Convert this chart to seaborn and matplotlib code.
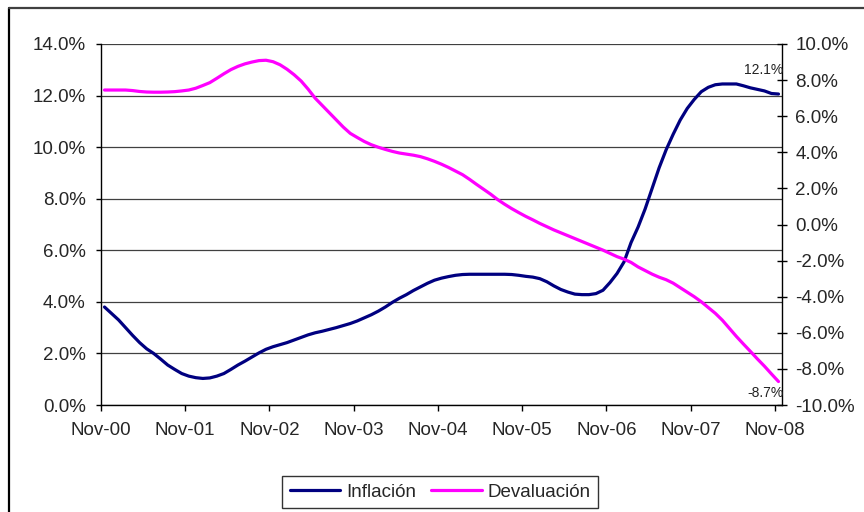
import matplotlib
matplotlib.use("Agg")
import matplotlib.pyplot as plt
from matplotlib.lines import Line2D
import seaborn as sns
import pandas as pd
import numpy as np

sns.set_style("white")
plt.rcParams['font.family'] = ['Liberation Sans', 'DejaVu Sans']

tick_labels = ["Nov-00", "Nov-01", "Nov-02", "Nov-03", "Nov-04",
               "Nov-05", "Nov-06", "Nov-07", "Nov-08"]

inflacion = [3.80, 3.55, 3.30, 3.00, 2.70, 2.42, 2.18, 2.00, 1.78, 1.55,
             1.38, 1.22, 1.12, 1.06, 1.03, 1.05, 1.12, 1.22, 1.38, 1.55,
             1.70, 1.86, 2.02, 2.16, 2.26, 2.34, 2.42, 2.52, 2.62, 2.72,
             2.80, 2.86, 2.93, 3.00, 3.08, 3.16, 3.26, 3.38, 3.50, 3.64,
             3.80, 3.98, 4.14, 4.28, 4.44, 4.58, 4.72, 4.84, 4.92, 4.98,
             5.03, 5.06, 5.07, 5.07, 5.07, 5.07, 5.07, 5.07, 5.06, 5.03,
             4.99, 4.96, 4.90, 4.78, 4.62, 4.48, 4.38, 4.30, 4.28, 4.28,
             4.32, 4.45, 4.75, 5.10, 5.55, 6.30, 6.90, 7.60, 8.40, 9.20,
             9.90, 10.50, 11.05, 11.50, 11.85, 12.15, 12.32, 12.42, 12.45, 12.45,
             12.45, 12.38, 12.30, 12.24, 12.18, 12.08, 12.06]

devaluacion = [7.45, 7.45, 7.45, 7.45, 7.42, 7.37, 7.34, 7.33, 7.33, 7.34,
               7.36, 7.40, 7.45, 7.55, 7.70, 7.86, 8.10, 8.35, 8.58, 8.76,
               8.90, 9.00, 9.08, 9.10, 9.02, 8.85, 8.60, 8.30, 7.95, 7.50,
               7.00, 6.60, 6.20, 5.80, 5.40, 5.05, 4.82, 4.60, 4.42, 4.28,
               4.16, 4.05, 3.96, 3.90, 3.84, 3.76, 3.64, 3.50, 3.34, 3.16,
               2.96, 2.76, 2.50, 2.22, 1.95, 1.68, 1.38, 1.12, 0.88, 0.66,
               0.45, 0.26, 0.06, -0.12, -0.30, -0.46, -0.62, -0.78, -0.94, -1.10,
               -1.26, -1.42, -1.60, -1.78, -1.92, -2.10, -2.35, -2.55, -2.75, -2.92,
               -3.06, -3.25, -3.50, -3.75, -4.00, -4.28, -4.60, -4.92, -5.30, -5.75,
               -6.20, -6.62, -7.03, -7.45, -7.85, -8.28, -8.70]

df = pd.DataFrame({"mes": np.arange(len(inflacion)),
                   "Inflación": inflacion,
                   "Devaluación": devaluacion})

W, H = 864, 512
fig = plt.figure(figsize=(W / 100, H / 100), dpi=100)
x0, x1, y0, y1 = 101, 782, 44, 405
ax = fig.add_axes([x0 / W, 1 - y1 / H, (x1 - x0) / W, (y1 - y0) / H])
ax2 = ax.twinx()

navy = "#000080"
mag = "#FF00FF"
fs = 13.5

sns.lineplot(data=df, x="mes", y="Inflación", ax=ax, color=navy, lw=2.3,
             label="Inflación", legend=False)
sns.lineplot(data=df, x="mes", y="Devaluación", ax=ax2, color=mag, lw=2.3,
             label="Devaluación", legend=False)

n = len(inflacion)
ax.set_xlim(-0.5, n - 0.5)
ax.set_ylim(0, 14)
ax2.set_ylim(-10, 10)

ax.set_xticks([-0.5 + 12 * k for k in range(len(tick_labels))])
ax.set_xticklabels(tick_labels)
ax.set_yticks(np.arange(0, 14.01, 2))
ax.set_yticklabels([f"{v:.1f}%" for v in np.arange(0, 14.01, 2)])
ax2.set_yticks(np.arange(-10, 10.01, 2))
ax2.set_yticklabels([f"{v:.1f}%" for v in np.arange(-10, 10.01, 2)])

ax.set_xlabel("")
ax.set_ylabel("")
ax2.set_ylabel("")

for a in (ax, ax2):
    for s in a.spines.values():
        s.set_visible(False)
ax.spines['left'].set_visible(True)
ax.spines['bottom'].set_visible(True)
ax2.spines['right'].set_visible(True)
for s in (ax.spines['left'], ax.spines['bottom'], ax2.spines['right']):
    s.set_color("black")
    s.set_linewidth(1.0)

ax.yaxis.grid(True, color="#404040", lw=0.9)
ax.xaxis.grid(False)
ax2.grid(False)
ax.set_axisbelow(True)

ax.tick_params(axis='y', direction='out', length=3.5, width=1, color='black',
               labelsize=fs, pad=7.5, left=True)
ax.tick_params(axis='x', direction='out', length=4, width=1, color='black',
               labelsize=fs, pad=8, bottom=True)
ax2.tick_params(axis='y', direction='inout', length=7, width=1, color='black',
                labelsize=fs, pad=6, right=True)

ax2.annotate(f"{inflacion[-1]:.1f}%", xy=(n - 1, inflacion[-1] * 20 / 14 - 10),
             xytext=(5, 24), textcoords='offset pixels', ha='right', va='center',
             fontsize=10, color='#222222')
ax2.annotate(f"{devaluacion[-1]:.1f}%", xy=(n - 1, devaluacion[-1]),
             xytext=(5, -11), textcoords='offset pixels', ha='right', va='center',
             fontsize=10, color='#222222')

handles = [Line2D([0], [0], color=navy, lw=2.3), Line2D([0], [0], color=mag, lw=2.3)]
leg = fig.legend(handles, ["Inflación", "Devaluación"], loc='center',
                 bbox_to_anchor=(440 / W, 1 - 492 / H), ncol=2, fontsize=fs,
                 frameon=True, fancybox=False, handlelength=2.7,
                 handletextpad=0.3, columnspacing=0.8, borderpad=0.4)
leg.get_frame().set_edgecolor('black')
leg.get_frame().set_linewidth(1.0)

fig.add_artist(Line2D([9 / W, 9 / W], [0, 1 - 8 / H], color='black', lw=1.6,
                      transform=fig.transFigure))
fig.add_artist(Line2D([9 / W, 1], [1 - 8 / H, 1 - 8 / H], color='#404040', lw=1.6,
                      transform=fig.transFigure))

fig.savefig("out.png", dpi=100)
